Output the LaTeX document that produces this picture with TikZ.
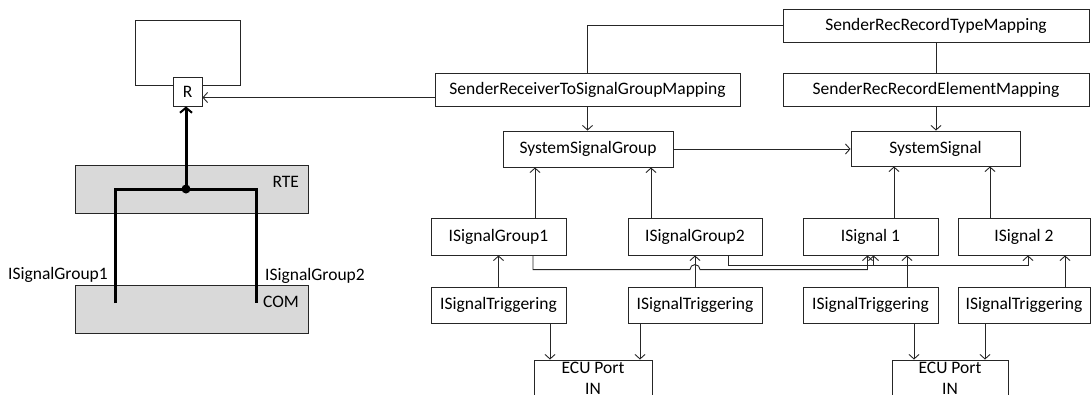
\documentclass[tikz,border=0pt]{standalone}
\usepackage{fontspec}
\setmainfont{Carlito}
\usepackage{tikz}
\usetikzlibrary{positioning,arrows.meta,calc}
\definecolor{edge}{HTML}{262626}
\definecolor{layer}{HTML}{D9D9D9}

\begin{document}
\begin{tikzpicture}[x=1pt, y=-1pt,
    every node/.style={font=\fontsize{17.5}{21}\selectfont, text=black},
    box/.style={draw=edge, fill=white, line width=0.9pt, inner sep=0pt},
    layerbox/.style={draw=edge, fill=layer, line width=0.9pt, minimum width=233, minimum height=48},
    link/.style={draw=edge, line width=0.9pt},
    arr/.style={link, -{Straight Barb[length=4.5pt,width=10pt]}},
    bus/.style={draw=black, line width=3pt},
    busarr/.style={bus, -{Straight Barb[length=5pt,width=12pt,line width=2pt]}}]
  \useasboundingbox (0,0) rectangle (1091,394);
  \clip (0,0) rectangle (1091,394);

  % left side: component, RTE and COM
  \node[box, minimum width=105, minimum height=65] (swc) at (187.5,52.5) {};
  \node[box, minimum width=29, minimum height=29] (port) at (187.5,91.5) {R};
  \node[layerbox] (rte) at (191.5,189) {};
  \node[anchor=east] (rtelbl) at ([shift={(-6pt,-17pt)}]rte.north east) {RTE};
  \node[layerbox] (com) at (191.5,309) {};
  \node[anchor=east] (comlbl) at ([shift={(-6pt,-17pt)}]com.north east) {COM};
  \node (lsg1) at (58,275) {ISignalGroup1};
  \node (lsg2) at (315,276) {ISignalGroup2};

  \coordinate (sg1) at (115,303);
  \coordinate (sg2) at (256,303);
  \coordinate (jn) at (186,189);
  \draw[bus] (sg1) |- (jn) -| (sg2);
  \fill (jn) circle (4.5pt);
  \draw[busarr] (jn) -- (jn |- port.south);

  % right side: mappings
  \node[box, minimum width=306, minimum height=33] (srrtm) at (936,25.5) {SenderRecRecordTypeMapping};
  \node[box, minimum width=306, minimum height=33] (srrem) at (936,89.5) {SenderRecRecordElementMapping};
  \node[box, minimum width=305, minimum height=33] (srtsgm) at (587.5,89.5) {SenderReceiverToSignalGroupMapping};
  \node[box, minimum width=170, minimum height=36] (ssg) at (588,149) {SystemSignalGroup};
  \node[box, minimum width=169, minimum height=35] (ss) at (935.5,148.5) {SystemSignal};

  % signal groups, signals and triggerings
  \node[box, minimum width=135, minimum height=37] (ig1) at (498.5,236.5) {ISignalGroup1};
  \node[box, minimum width=134, minimum height=37] (ig2) at (695,236.5) {ISignalGroup2};
  \node[box, minimum width=135, minimum height=37] (isig1) at (870.5,236.5) {ISignal 1};
  \node[box, minimum width=132, minimum height=37] (isig2) at (1024,236.5) {ISignal 2};
  \node[box, minimum width=135, minimum height=36] (tr1) at (498.5,305) {ISignalTriggering};
  \node[box, minimum width=134, minimum height=36] (tr2) at (695,305) {ISignalTriggering};
  \node[box, minimum width=135, minimum height=36] (tr3) at (870.5,305) {ISignalTriggering};
  \node[box, minimum width=132, minimum height=36] (tr4) at (1024,305) {ISignalTriggering};
  \node[box, minimum width=118, minimum height=37, align=center] (ecu1) at (593,378.5) {ECU Port\\IN};
  \node[box, minimum width=116, minimum height=37, align=center] (ecu2) at (950,378.5) {ECU Port\\IN};

  \draw[arr] ([yshift=-8pt]srtsgm.west) -- ([yshift=-8pt]srtsgm.west -| port.east);
  \draw[link] (srrtm.west) -| (srtsgm.north);
  \draw[link] (srrtm.south) -- (srrem.north);
  \draw[arr] (srrem.south) -- (srrem.south |- ss.north);
  \draw[arr] (srtsgm.south) -- (srtsgm.south |- ssg.north);
  \draw[arr] (ssg.east) -- (ssg.east -| ss.west);

  \draw[arr] ([xshift=36.5pt]ig1.north) -- ([xshift=36.5pt]ig1.north |- ssg.south);
  \draw[arr] ([xshift=-44pt]ig2.north) -- ([xshift=-44pt]ig2.north |- ssg.south);
  \draw[arr] ([xshift=23.5pt]isig1.north) -- ([xshift=23.5pt]isig1.north |- ss.south);
  \draw[arr] ([xshift=-34pt]isig2.north) -- ([xshift=-34pt]isig2.north |- ss.south);

  \draw[arr] (tr1.north) -- (ig1.south);
  \draw[arr] (tr2.north) -- (ig2.south);
  \draw[arr] ([xshift=36.5pt]tr3.north) -- ([xshift=36.5pt]isig1.south);
  \draw[arr] ([xshift=41pt]tr4.north) -- ([xshift=41pt]isig2.south);

  \draw[arr] ([xshift=51.5pt]tr1.south) -- ([xshift=51.5pt]tr1.south |- ecu1.north);
  \draw[arr] ([xshift=-55pt]tr2.south) -- ([xshift=-55pt]tr2.south |- ecu1.north);
  \draw[arr] ([xshift=43.5pt]tr3.south) -- ([xshift=43.5pt]tr3.south |- ecu2.north);
  \draw[arr] ([xshift=-39pt]tr4.south) -- ([xshift=-39pt]tr4.south |- ecu2.north);

  % group membership
  \coordinate (hop) at ($(tr2.north)+(0,-17)$);
  \draw[arr] ([xshift=34.5pt]ig1.south) |- ([xshift=-5pt]hop)
    arc[start angle=180, end angle=0, radius=5pt] -| ([xshift=-3pt]isig1.south);
  \draw[arr] ([xshift=33pt]ig2.south) -- ++(0,10) -| ([xshift=3pt]isig1.south);
  \draw[arr] ([xshift=33pt]ig2.south) -- ++(0,10) -| ([xshift=4pt]isig2.south);
\end{tikzpicture}
\end{document}
